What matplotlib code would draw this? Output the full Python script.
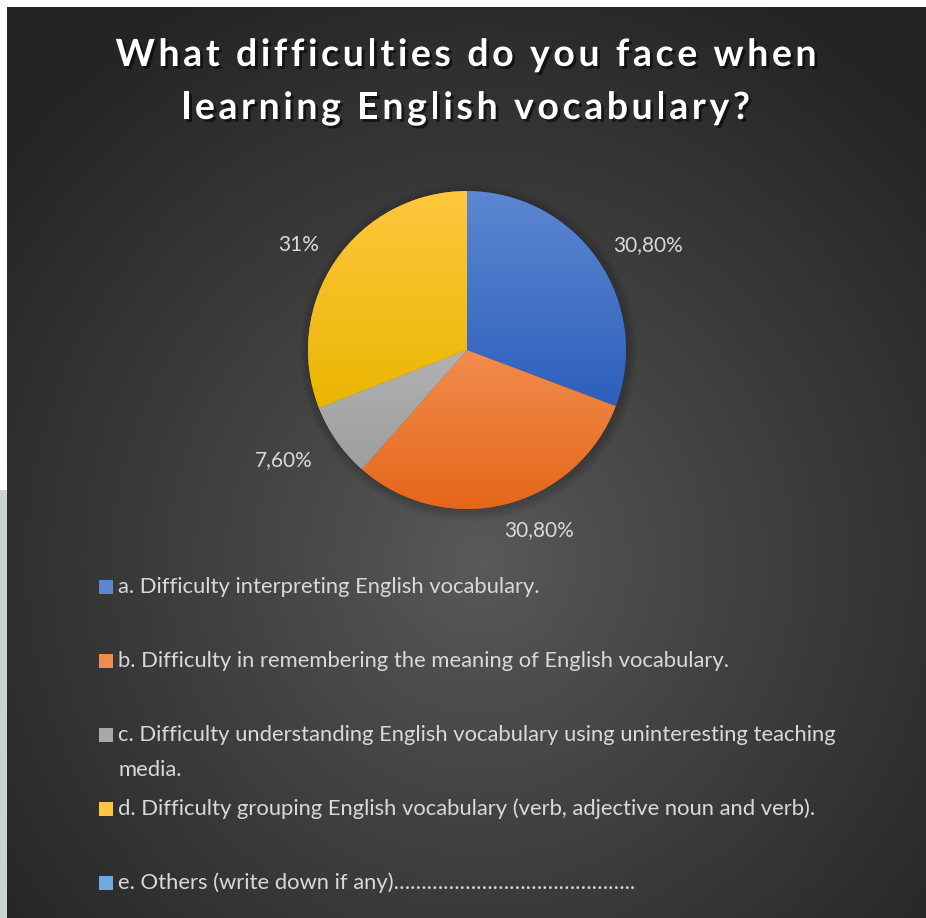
import numpy as np
import matplotlib.pyplot as plt
import matplotlib.patheffects as pe
from matplotlib.patches import Rectangle, Circle
from matplotlib.colors import LinearSegmentedColormap, to_rgb

title_lines = ["What difficulties do you face when", "learning English vocabulary?"]
options = ["a. Difficulty interpreting English vocabulary.",
           "b. Difficulty in remembering the meaning of English vocabulary.",
           "c. Difficulty understanding English vocabulary using uninteresting teaching\nmedia.",
           "d. Difficulty grouping English vocabulary (verb, adjective noun and verb).",
           "e. Others (write down if any)" + "\u2026" * 14 + ".."]
shares = [30.8, 30.8, 7.6, 31, 0]
top_cols = ["#5C87D1", "#F28C4E", "#B2B2B2", "#FFC73F", "#6EABE2"]
bot_cols = ["#2D5FBC", "#E5671A", "#9E9E9E", "#EAB600", "#4B8FD4"]

# label spots around the pie (pie units, radius = 1)
label_xy = [(1.14, 0.66), (0.45, -1.13), (-1.15, -0.69), (-1.06, 0.66)]

W, H = 926, 918
fig = plt.figure(figsize=(W / 100, H / 100), dpi=100)
fig.patch.set_facecolor("white")

# background panel with a soft radial glow
bg = fig.add_axes([0, 0, 1, 1])
yy, xx = np.mgrid[7:H, 7:W]
r = np.sqrt(((xx - 480) / 620.0) ** 2 + ((yy - 560) / 640.0) ** 2)
r = np.clip(r, 0, 1)
c0 = np.array(to_rgb("#5A5A5A"))
c1 = np.array(to_rgb("#242424"))
img = c0 + (c1 - c0) * r[..., None] ** 0.9
bg.imshow(img, extent=(7, W, H, 7), aspect="auto", interpolation="bilinear")
bg.add_patch(Rectangle((0, 490), 7, H - 490, color="#C9D3CF", lw=0))
bg.set_xlim(0, W)
bg.set_ylim(H, 0)
bg.axis("off")

renderer = fig.canvas.get_renderer()


def text_width(s, **kw):
    # pixel width of a string, trailing spaces included
    t = bg.text(0, 0, s + "|", **kw)
    w = t.get_window_extent(renderer).width
    t.remove()
    t = bg.text(0, 0, "|", **kw)
    w -= t.get_window_extent(renderer).width
    t.remove()
    return w


def spaced_text(xc, y, s, gap, **kw):
    total = text_width(s, **kw) + gap * (len(s) - 1)
    x0 = xc - total / 2
    for k, ch in enumerate(s):
        if ch == " ":
            continue
        bg.text(x0 + text_width(s[:k], **kw) + gap * k, y, ch, ha="left", va="center", **kw)


title_kw = dict(color="white", fontsize=27, fontweight="bold", family="Lato",
                path_effects=[pe.withSimplePatchShadow(offset=(2, -2), shadow_rgbFace="black", alpha=0.55)])
spaced_text(466, 55, title_lines[0], 3.6, **title_kw)
spaced_text(466, 108, title_lines[1], 3.6, **title_kw)

# pie
cx, cy, rad = 467, 350, 159
side = rad * 2.5
pax = fig.add_axes([(cx - side / 2) / W, (H - cy - side / 2) / H, side / W, side / H])
vals = [v for v in shares if v > 0]
wedges, _ = pax.pie(vals, colors=bot_cols[:len(vals)], startangle=90, counterclock=False,
                    wedgeprops=dict(edgecolor="#00000030", linewidth=0.6))
for k in range(5):
    pax.add_patch(Circle((0.01, -0.015), 1.0 + 0.012 * (k + 1), color="black",
                         alpha=0.035, lw=0, zorder=0))
grad = np.linspace(0, 1, 256).reshape(-1, 1)
for i, w in enumerate(wedges):
    ext = w.get_path().get_extents()
    cm = LinearSegmentedColormap.from_list("g%d" % i, [bot_cols[i], top_cols[i]])
    im = pax.imshow(grad, cmap=cm, origin="lower", aspect="auto",
                    extent=(ext.x0, ext.x1, ext.y0, ext.y1), zorder=w.get_zorder() + 0.1)
    im.set_clip_path(w)

for v, (lx, ly) in zip(vals, label_xy):
    s = ("%d%%" % v) if float(v).is_integer() else ("%.2f%%" % v).replace(".", ",")
    pax.text(lx, ly, s, ha="center", va="center", color="#D9D9D9", fontsize=15, family="Lato")
pax.set_xlim(-1.25, 1.25)
pax.set_ylim(-1.25, 1.25)
pax.set_aspect("equal")
pax.axis("off")

# legend list
row_y = [587, 661, 735, 809, 883]
for i, txt in enumerate(options):
    bg.add_patch(Rectangle((99, row_y[i] - 7), 14, 14, color=top_cols[i] if i != 2 else "#A8A8A8", lw=0))
    for j, line in enumerate(txt.split("\n")):
        bg.text(118, row_y[i] + 35 * j, line, ha="left", va="center", color="#D9D9D9",
                fontsize=15.8, family="Lato")

fig.savefig("out.png", dpi=100, facecolor=fig.get_facecolor())
